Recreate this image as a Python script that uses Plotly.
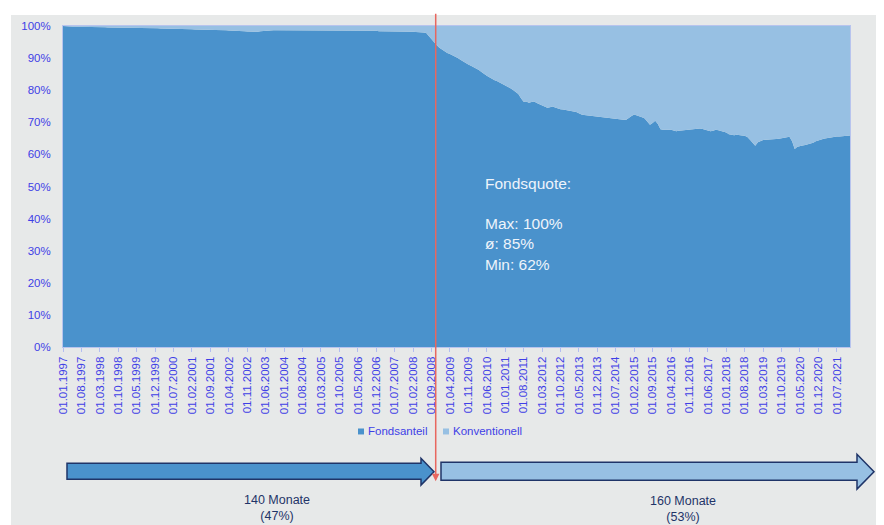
import plotly.graph_objects as go

# ---------------- data ----------------
years = list(range(1997, 2022))
months = [f"01.{m:02d}.{y}" for y in years for m in range(1, 13)]  # 300 monthly categories

fondsanteil = [
    # 1997
    100.0, 99.9, 99.9, 99.9, 99.8, 99.8, 99.8, 99.8, 99.7, 99.7, 99.7, 99.7,
    # 1998
    99.7, 99.6, 99.6, 99.6, 99.6, 99.5, 99.5, 99.4, 99.4, 99.4, 99.4, 99.4,
    # 1999
    99.4, 99.4, 99.3, 99.3, 99.3, 99.3, 99.3, 99.3, 99.3, 99.3, 99.3, 99.3,
    # 2000
    99.3, 99.2, 99.2, 99.2, 99.2, 99.2, 99.1, 99.1, 99.1, 99.1, 99.0, 99.0,
    # 2001
    99.0, 99.0, 98.9, 98.9, 98.9, 98.9, 98.8, 98.8, 98.8, 98.8, 98.7, 98.7,
    # 2002
    98.7, 98.7, 98.7, 98.6, 98.6, 98.6, 98.5, 98.5, 98.4, 98.4, 98.3, 98.3,
    # 2003
    98.2, 98.1, 98.2, 98.4, 98.5, 98.6, 98.7, 98.7, 98.7, 98.7, 98.7, 98.7,
    # 2004
    98.7, 98.7, 98.7, 98.7, 98.7, 98.7, 98.7, 98.7, 98.7, 98.7, 98.7, 98.7,
    # 2005
    98.7, 98.7, 98.7, 98.7, 98.7, 98.6, 98.6, 98.6, 98.6, 98.6, 98.6, 98.6,
    # 2006
    98.6, 98.6, 98.6, 98.6, 98.5, 98.5, 98.5, 98.5, 98.5, 98.5, 98.5, 98.5,
    # 2007
    98.4, 98.4, 98.3, 98.3, 98.3, 98.3, 98.3, 98.2, 98.2, 98.2, 98.2, 98.2,
    # 2008
    98.2, 98.2, 98.1, 98.1, 98.1, 98.0, 97.8, 96.8, 95.8, 94.8, 94.0, 93.2,
    # 2009
    92.6, 92.0, 91.6, 91.3, 90.9, 90.6, 90.0, 89.5, 89.0, 88.3, 88.0, 87.6,
    # 2010
    87.2, 86.8, 86.3, 85.7, 85.0, 84.5, 84.0, 83.5, 83.1, 82.8, 82.4, 82.0,
    # 2011
    81.5, 81.1, 80.6, 80.1, 79.5, 78.8, 77.5, 76.4, 76.5, 76.1, 76.3, 76.5,
    # 2012
    76.0, 75.6, 75.4, 75.0, 74.5, 74.7, 74.9, 74.6, 74.3, 74.1, 74.0, 73.9,
    # 2013
    73.7, 73.5, 73.4, 73.2, 72.7, 72.4, 72.3, 72.2, 72.1, 72.0, 71.8, 71.6,
    # 2014
    71.5, 71.4, 71.4, 71.3, 71.3, 71.2, 71.0, 70.9, 70.8, 70.8, 70.8, 71.5,
    # 2015
    72.0, 72.4, 72.2, 72.0, 71.6, 71.2, 70.3, 69.2, 69.8, 70.5, 69.5, 67.8,
    # 2016
    67.7, 67.6, 67.7, 67.7, 67.4, 67.2, 67.4, 67.5, 67.6, 67.7, 67.7, 67.9,
    # 2017
    68.0, 68.2, 68.1, 67.9, 67.7, 67.4, 67.2, 67.4, 67.7, 67.5, 67.3, 67.2,
    # 2018
    66.8, 66.3, 66.1, 66.0, 66.1, 66.1, 65.9, 65.8, 65.4, 64.6, 63.8, 62.7,
    # 2019
    63.8, 64.2, 64.5, 64.6, 64.6, 64.7, 64.7, 64.8, 64.9, 65.0, 65.2, 65.4,
    # 2020
    65.5, 64.1, 61.7, 62.4, 62.7, 62.8, 62.9, 63.1, 63.2, 63.6, 64.1, 64.4,
    # 2021
    64.8, 64.9, 65.0, 65.2, 65.4, 65.5, 65.6, 65.6, 65.7, 65.8, 65.9, 65.9,
]
konventionell = [round(100 - v, 1) for v in fondsanteil]

series_names = ["Fondsanteil", "Konventionell"]
y_ticks = [0, 10, 20, 30, 40, 50, 60, 70, 80, 90, 100]
y_tick_labels = [f"{v}%" for v in y_ticks]
x_tick_idx = list(range(0, len(months), 7))
x_tick_labels = [months[i] for i in x_tick_idx]

split_month = 141.6  # position of the red marker (after 140 months)
period_labels = ["140 Monate<br>(47%)", "160 Monate<br>(53%)"]
info_text = "Fondsquote:<br><br>Max: 100%<br>ø: 85%<br>Min: 62%"

# ---------------- style ----------------
DARK = "#4a92cc"
LIGHT = "#97c0e3"
BG = "#e7e9e9"
TICK_BLUE = "#3f3fe6"
NAVY = "#1f3468"
RED = "#e8675f"
FONT = "Arial, Liberation Sans, sans-serif"

PAGE_OFF = 8            # browser body margin
W, H = 884 - PAGE_OFF, 525 - PAGE_OFF
L, R, T, B = 63, 850, 24, 347   # plot area in screen pixels


def px(x):
    return (x - L) / (R - L)


def py(y):
    return (B - y) / (B - T)


x_idx = list(range(len(months)))

fig = go.Figure()
fig.add_trace(go.Scatter(
    x=x_idx, y=fondsanteil, name=series_names[0], stackgroup="one",
    mode="lines", line=dict(width=0, color=DARK), fillcolor=DARK,
    customdata=months, hovertemplate="%{customdata}: %{y:.1f}%<extra></extra>",
    showlegend=False,
))
fig.add_trace(go.Scatter(
    x=x_idx, y=konventionell, name=series_names[1], stackgroup="one",
    mode="lines", line=dict(width=0, color=LIGHT), fillcolor=LIGHT,
    customdata=months, hovertemplate="%{customdata}: %{y:.1f}%<extra></extra>",
    showlegend=False,
))

shapes = []
# gray panel background
shapes.append(dict(type="rect", xref="paper", yref="paper",
                   x0=px(11), x1=px(900), y0=py(540), y1=py(13),
                   fillcolor=BG, line=dict(width=0), layer="below"))


def arrow_path(x0, xh, xt, bt, bb, ht, hb, yt):
    pts = [(x0, bt), (xh, bt), (xh, ht), (xt, yt), (xh, hb), (xh, bb), (x0, bb)]
    s = "M " + " L ".join(f"{px(a):.5f},{py(b):.5f}" for a, b in pts) + " Z"
    return s


shapes.append(dict(type="path", xref="paper", yref="paper",
                   path=arrow_path(67, 421, 434, 464, 480, 459, 486, 472.5),
                   fillcolor=DARK, line=dict(color=NAVY, width=1.5)))
shapes.append(dict(type="path", xref="paper", yref="paper",
                   path=arrow_path(441, 857, 874, 463, 481, 455, 490, 472.5),
                   fillcolor=LIGHT, line=dict(color=NAVY, width=1.5)))

# legend squares
shapes.append(dict(type="rect", xref="paper", yref="paper",
                   x0=px(358), x1=px(364), y0=py(435), y1=py(429),
                   fillcolor=DARK, line=dict(width=0)))
shapes.append(dict(type="rect", xref="paper", yref="paper",
                   x0=px(443), x1=px(449), y0=py(435), y1=py(429),
                   fillcolor=LIGHT, line=dict(width=0)))

annotations = [
    # red split marker
    dict(x=split_month, xref="x", y=py(482), yref="paper", text="",
         showarrow=True, arrowhead=2, arrowsize=1, arrowwidth=1.5,
         arrowcolor=RED, ax=0, ay=-(482 - 13), standoff=0),
    # info text
    dict(x=px(483), y=py(172), xref="paper", yref="paper", xanchor="left",
         yanchor="top", align="left", showarrow=False, text=info_text,
         font=dict(family=FONT, size=15.5, color="#eef4fb")),
    # legend texts
    dict(x=px(366), y=py(432), xref="paper", yref="paper", xanchor="left",
         yanchor="middle", showarrow=False, text=series_names[0],
         font=dict(family=FONT, size=11.5, color=TICK_BLUE)),
    dict(x=px(451), y=py(432), xref="paper", yref="paper", xanchor="left",
         yanchor="middle", showarrow=False, text=series_names[1],
         font=dict(family=FONT, size=11.5, color=TICK_BLUE)),
    # period labels
    dict(x=px(277), y=py(492), xref="paper", yref="paper", xanchor="center",
         yanchor="top", showarrow=False, text=period_labels[0],
         font=dict(family=FONT, size=12.5, color=NAVY)),
    dict(x=px(683), y=py(493), xref="paper", yref="paper", xanchor="center",
         yanchor="top", showarrow=False, text=period_labels[1],
         font=dict(family=FONT, size=12.5, color=NAVY)),
]

fig.update_layout(
    width=W, height=H,
    margin=dict(l=L - PAGE_OFF, r=W - (R - PAGE_OFF), t=T - PAGE_OFF,
                b=H - (B - PAGE_OFF), pad=0),
    paper_bgcolor="white", plot_bgcolor=BG,
    showlegend=False,
    shapes=shapes, annotations=annotations,
    font=dict(family=FONT),
    xaxis=dict(
        range=[0, len(months) - 1], tickmode="array",
        tickvals=x_tick_idx, ticktext=x_tick_labels, tickangle=-90,
        tickfont=dict(family=FONT, size=11.5, color=TICK_BLUE),
        ticks="outside", ticklen=4, tickcolor="#b3bdf0", tickwidth=1,
        showgrid=False, zeroline=False, showline=True, linecolor="#b8c4ee",
        mirror=True, fixedrange=True,
    ),
    yaxis=dict(
        range=[0, 100], tickmode="array", tickvals=y_ticks,
        ticktext=y_tick_labels,
        tickfont=dict(family=FONT, size=11.5, color=TICK_BLUE),
        ticks="", ticklabelstandoff=9,
        showgrid=False, zeroline=False, showline=True, linecolor="#b8c4ee",
        mirror=True, fixedrange=True,
    ),
)

fig.write_html("out.html")
